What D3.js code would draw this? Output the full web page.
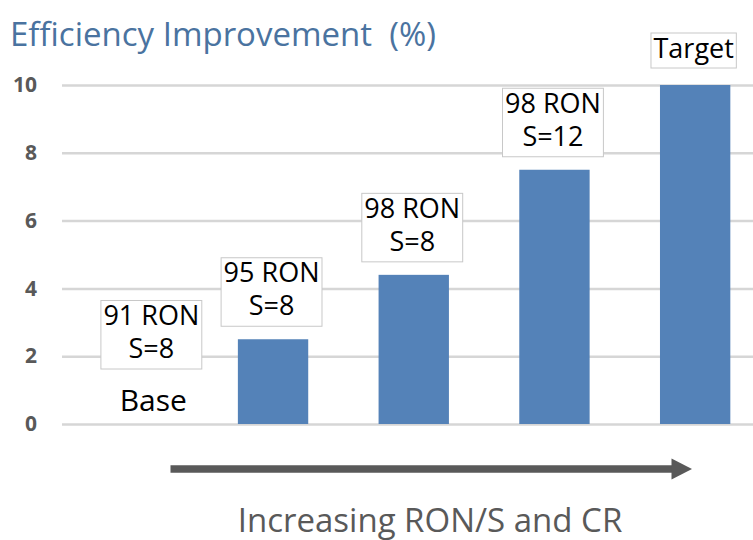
<!DOCTYPE html>
<html>
<head>
<meta charset="utf-8">
<script src="https://cdn.jsdelivr.net/npm/d3@7"></script>
<style>
  body { margin: 0; background: #fff; }
  svg { display: block; font-family: "Open Sans", "Noto Sans", sans-serif; }
</style>
</head>
<body>
<div id="chart"></div>
<script>
// chart data
const categories = ["Base", "95 RON", "98 RON S8", "98 RON S12", "Target"];
const values = [0, 2.5, 4.4, 7.5, 10];
const barLabels = [["91 RON", "S=8"], ["95 RON", "S=8"], ["98 RON", "S=8"], ["98 RON", "S=12"], ["Target"]];
const yTicks = [0, 2, 4, 6, 8, 10];
const titleText = "Efficiency Improvement\u00a0\u00a0(%)";
const arrowText = "Increasing RON/S and CR";

const W = 753, H = 540;
const svg = d3.select("#chart").append("svg")
    .attr("width", W)
    .attr("height", H);

const x = d3.scaleBand().domain(categories).range([62, 765.5])
    .paddingInner(0.5).paddingOuter(0.25);
const y = d3.scaleLinear().domain([0, 10]).range([424, 85]);

// title
svg.append("text")
    .attr("x", 10).attr("y", 46)
    .attr("fill", "#4a73a0")
    .style("font-size", "33px")
    .text(titleText);

// gridlines + tick labels
const yAxis = svg.append("g")
    .attr("transform", "translate(62,0)")
    .call(d3.axisLeft(y).tickValues(yTicks).tickSize(-(W - 62)).tickPadding(25).tickFormat(d3.format("d")));
yAxis.select(".domain").remove();
yAxis.selectAll(".tick line").attr("stroke", "#d6d6d6").attr("stroke-width", 2.5);
yAxis.selectAll(".tick text")
    .attr("fill", "#595959")
    .style("font-size", "21px")
    .style("font-weight", "bold")
    .style("font-family", "'Open Sans', sans-serif");

// bars
svg.selectAll(".bar")
    .data(values)
    .enter().append("rect")
    .attr("class", "bar")
    .attr("x", (d, i) => x(categories[i]))
    .attr("width", x.bandwidth())
    .attr("y", d => y(d))
    .attr("height", d => y(0) - y(d))
    .attr("fill", "#5482b8");

// data label boxes
const lineH = 33;
const lab = svg.selectAll(".lab")
    .data(barLabels)
    .enter().append("g")
    .attr("class", "lab");

lab.each(function(lines, i) {
    const g = d3.select(this);
    const cx = x(categories[i]) + x.bandwidth() / 2 + (i === 0 ? 19 : -1.5);
    const bottom = i === 0 ? y(0) - 55 : y(values[i]) - (lines.length === 1 ? 17 : 13);
    const boxH = lines.length === 1 ? 35 : 68.5;
    const top = bottom - boxH;
    const rect = g.append("rect");
    const txt = g.append("text")
        .attr("text-anchor", "middle")
        .attr("fill", "#000")
        .style("font-size", "27px");
    lines.forEach((s, k) => {
        txt.append("tspan")
            .attr("x", cx)
            .attr("y", top + 24.5 + k * lineH)
            .text(s);
    });
    let w = 0;
    txt.selectAll("tspan").each(function() { w = Math.max(w, this.getComputedTextLength()); });
    rect.attr("x", cx - w / 2 - 2.5)
        .attr("y", top)
        .attr("width", w + 5)
        .attr("height", boxH)
        .attr("fill", "#fff")
        .attr("stroke", "#c8c8c8")
        .attr("stroke-width", 1);
});

// "Base" text under the first label
svg.append("text")
    .attr("x", x(categories[0]) + x.bandwidth() / 2 + 21)
    .attr("y", 410.5)
    .attr("text-anchor", "middle")
    .attr("fill", "#000")
    .style("font-size", "30px")
    .text("Base");

// arrow
const arrowY = 469;
svg.append("line")
    .attr("x1", 170.5).attr("x2", 673)
    .attr("y1", arrowY).attr("y2", arrowY)
    .attr("stroke", "#595959")
    .attr("stroke-width", 7.5);
svg.append("path")
    .attr("d", d3.line()([[671.5, arrowY - 10.5], [692, arrowY], [671.5, arrowY + 10.5]]) + "Z")
    .attr("fill", "#595959");

svg.append("text")
    .attr("x", 430).attr("y", 532)
    .attr("text-anchor", "middle")
    .attr("fill", "#595959")
    .style("font-size", "33px")
    .text(arrowText);
</script>
</body>
</html>
